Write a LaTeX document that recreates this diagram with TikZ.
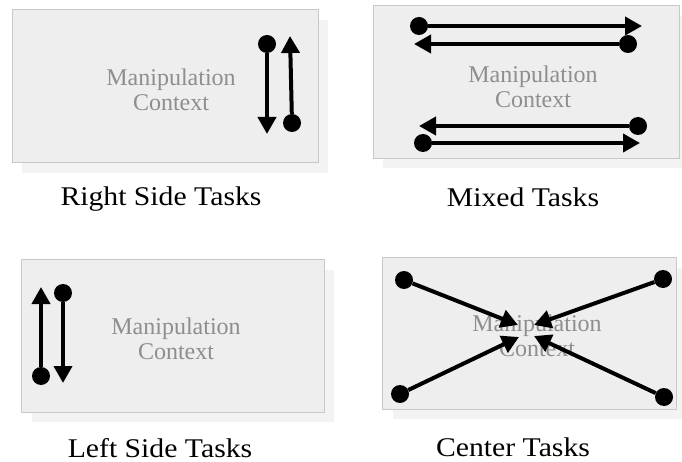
\documentclass[tikz,border=0pt]{standalone}
\usepackage{fontspec}
\setmainfont{Liberation Serif}
\newfontfamily\capfont[FakeStretch=1.1]{Liberation Serif}
\usetikzlibrary{arrows.meta}
\definecolor{panelfill}{HTML}{EEEEEE}
\definecolor{panelline}{HTML}{C8C8C8}
\definecolor{shadowfill}{HTML}{F3F3F3}
\definecolor{ctxtext}{HTML}{8E8E8E}
\tikzset{
  panel/.style={fill=panelfill, draw=panelline, line width=1pt},
  shade box/.style={fill=shadowfill, draw=none},
  ctx/.style={text=ctxtext, align=center, font=\fontsize{24}{25}\selectfont},
  caption/.style={font=\capfont\fontsize{27}{30}\selectfont},
  dot/.style={circle, fill=black, inner sep=0pt, minimum size=18pt},
  move/.style={line width=4pt, -{Triangle[width=18pt,length=17pt]}},
}
\begin{document}
\begin{tikzpicture}[x=1pt,y=-1pt]
\useasboundingbox (0,0) rectangle (682,462);

% ---------- right side tasks ----------
\fill[shade box] (22,20) rectangle (328,173);
\draw[panel] (12,10) rectangle (318,163);
\node[ctx] (ctxA) at (171,90) {Manipulation\\Context};
\node[dot] (a1) at (267,44) {};
\coordinate (a1t) at (267,134);
\node[dot] (a2) at (292,123) {};
\coordinate (a2t) at (290,36);
\draw[move] (a1) -- (a1t);
\draw[move] (a2) -- (a2t);
\node[caption] (capA) at (161,199) {Right Side Tasks};

% ---------- mixed tasks ----------
\fill[shade box] (383,16) rectangle (682,168);
\draw[panel] (373,6) rectangle (679,159);
\node[ctx] (ctxB) at (533,87) {Manipulation\\Context};
\node[dot] (b1) at (419,26) {};
\coordinate (b1t) at (642,26);
\node[dot] (b2) at (628,44) {};
\coordinate (b2t) at (414,44);
\node[dot] (b3) at (638,126) {};
\coordinate (b3t) at (419,126);
\node[dot] (b4) at (423,143) {};
\coordinate (b4t) at (640,143);
\draw[move] (b1) -- (b1t);
\draw[move] (b2) -- (b2t);
\draw[move] (b3) -- (b3t);
\draw[move] (b4) -- (b4t);
\node[caption] (capB) at (523,197) {Mixed Tasks};

% ---------- left side tasks ----------
\fill[shade box] (32,270) rectangle (334,422);
\draw[panel] (21,259) rectangle (324,412);
\node[ctx] (ctxC) at (176,339) {Manipulation\\Context};
\node[dot] (c1) at (41,376) {};
\coordinate (c1t) at (41,287);
\node[dot] (c2) at (63,293) {};
\coordinate (c2t) at (63,383);
\draw[move] (c1) -- (c1t);
\draw[move] (c2) -- (c2t);
\node[caption] (capC) at (160,448) {Left Side Tasks};

% ---------- center tasks ----------
\fill[shade box] (393,268) rectangle (682,419);
\draw[panel] (382,257) rectangle (676,409);
\node[ctx] (ctxD) at (537,336) {Manipulation\\Context};
\node[dot] (d1) at (404,280) {};
\coordinate (d1t) at (518,325);
\node[dot] (d2) at (663,279) {};
\coordinate (d2t) at (534,325);
\node[dot] (d3) at (400,394) {};
\coordinate (d3t) at (519,337);
\node[dot] (d4) at (664,397) {};
\coordinate (d4t) at (534,336);
\draw[move] (d1) -- (d1t);
\draw[move] (d2) -- (d2t);
\draw[move] (d3) -- (d3t);
\draw[move] (d4) -- (d4t);
\node[caption] (capD) at (513,447) {Center Tasks};
\end{tikzpicture}
\end{document}
